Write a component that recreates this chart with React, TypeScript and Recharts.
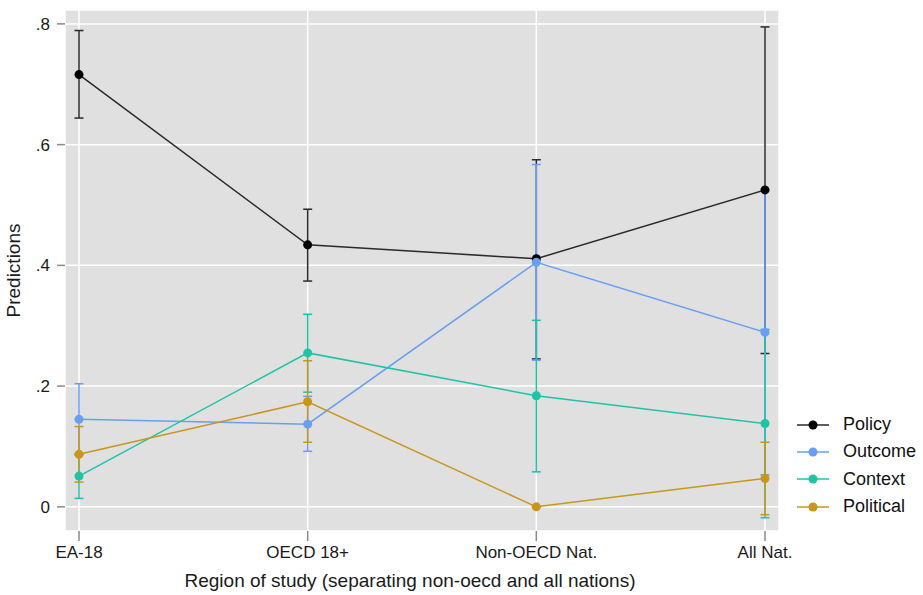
import {
  ComposedChart,
  Line,
  XAxis,
  YAxis,
  CartesianGrid,
  ErrorBar,
  Legend,
} from 'recharts';

const categories = ['EA-18', 'OECD 18+', 'Non-OECD Nat.', 'All Nat.'];

const policy = [0.716, 0.434, 0.411, 0.525];
const policyLo = [0.644, 0.374, 0.245, 0.254];
const policyHi = [0.789, 0.493, 0.575, 0.795];

const outcome = [0.145, 0.137, 0.405, 0.289];
const outcomeLo = [0.086, 0.092, 0.243, 0.053];
const outcomeHi = [0.204, 0.183, 0.567, 0.525];

const context = [0.051, 0.255, 0.184, 0.138];
const contextLo = [0.014, 0.19, 0.058, -0.018];
const contextHi = [0.088, 0.319, 0.309, 0.294];

const political = [0.087, 0.174, 0, 0.047];
const politicalLo = [0.041, 0.107, 0, -0.013];
const politicalHi = [0.133, 0.242, 0, 0.107];

const yTicks = [0, 0.2, 0.4, 0.6, 0.8];

const series = [
  { key: 'policy', name: 'Policy', color: '#000000', line: '#2a2a2a' },
  { key: 'outcome', name: 'Outcome', color: '#6a9ef3', line: '#6a9ef3' },
  { key: 'context', name: 'Context', color: '#1fc3a5', line: '#1fc3a5' },
  { key: 'political', name: 'Political', color: '#c8961b', line: '#c8961b' },
];

const err = (v: number[], lo: number[], hi: number[], i: number) => [v[i] - lo[i], hi[i] - v[i]];

const data = categories.map((cat, i) => ({
  cat,
  policy: policy[i],
  policyErr: err(policy, policyLo, policyHi, i),
  outcome: outcome[i],
  outcomeErr: err(outcome, outcomeLo, outcomeHi, i),
  context: context[i],
  contextErr: err(context, contextLo, contextHi, i),
  political: political[i],
  politicalErr: err(political, politicalLo, politicalHi, i),
}));

const fmtY = (v: number) => (v === 0 ? '0' : String(Number(v.toFixed(1))).replace(/^0/, ''));

function LegendBox() {
  return (
    <div>
      {series.map((s) => (
        <div key={s.key} style={{ display: 'flex', alignItems: 'center', height: 27.3 }}>
          <svg width={46} height={12}>
            <line x1={7} x2={39} y1={6} y2={6} stroke={s.line} strokeWidth={1.5} />
            <circle cx={23} cy={6} r={4.5} fill={s.color} />
          </svg>
          <span style={{ fontSize: 18, color: '#111', marginLeft: 7 }}>{s.name}</span>
        </div>
      ))}
    </div>
  );
}

export default function App() {
  return (
    <div
      style={{
        position: 'absolute',
        left: 0,
        top: 0,
        width: 923,
        height: 595,
        background: '#fff',
        fontFamily: '"Liberation Sans", Arial, sans-serif',
      }}
    >
      <ComposedChart
        width={923}
        height={595}
        data={data}
        margin={{ top: 10, right: 144, bottom: 0, left: 0 }}
      >
        <CartesianGrid fill="#e0e0e0" stroke="#ffffff" strokeWidth={1.5} />
        <XAxis
          dataKey="cat"
          scale="point"
          padding={{ left: 14, right: 14 }}
          height={64}
          axisLine={false}
          tickLine={{ stroke: '#8a8a8a', strokeWidth: 1.5 }}
          tickSize={10}
          tickMargin={5}
          tick={{ fill: '#1a1a1a', fontSize: 17 }}
          interval={0}
          label={{
            value: 'Region of study (separating non-oecd and all nations)',
            position: 'insideBottom',
            offset: 8,
            dx: -12,
            style: { fill: '#1a1a1a', fontSize: 19 },
          }}
        />
        <YAxis
          type="number"
          domain={[-0.04, 0.823]}
          ticks={yTicks}
          tickFormatter={fmtY}
          width={65}
          axisLine={false}
          tickLine={{ stroke: '#8a8a8a', strokeWidth: 1.5 }}
          tickSize={8}
          tickMargin={7}
          tick={{ fill: '#1a1a1a', fontSize: 17 }}
          label={{
            value: 'Predictions',
            angle: -90,
            position: 'insideLeft',
            offset: 0,
            dx: 13,
            style: { fill: '#1a1a1a', fontSize: 19, textAnchor: 'middle' },
          }}
        />
        <Legend
          layout="vertical"
          align="center"
          verticalAlign="middle"
          content={<LegendBox />}
          wrapperStyle={{ left: 790, top: 411, width: 133 }}
        />
        {series.map((s) => (
          <Line
            key={s.key}
            dataKey={s.key}
            name={s.name}
            type="linear"
            stroke={s.line}
            strokeWidth={1.5}
            dot={{ r: 4.5, fill: s.color, stroke: s.color, strokeWidth: 0 }}
            activeDot={false}
            isAnimationActive={false}
          >
            <ErrorBar
              dataKey={`${s.key}Err`}
              direction="y"
              width={4.5}
              stroke={s.line}
              strokeWidth={1.5}
              isAnimationActive={false}
            />
          </Line>
        ))}
      </ComposedChart>
    </div>
  );
}
